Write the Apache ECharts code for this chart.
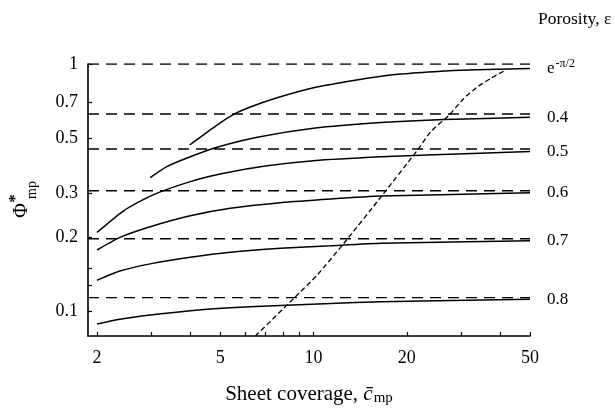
<!DOCTYPE html>
<html lang="en">
<head>
  <meta charset="UTF-8">
  <title>Sheet coverage vs porosity</title>
  <script src="https://cdn.jsdelivr.net/npm/echarts@6/dist/echarts.min.js"></script>
  <style>
    html, body { margin: 0; padding: 0; background: #fff; }
    #chart { width: 615px; height: 409px; }
  </style>
</head>
<body>
  <div id="chart"></div>
<script>
  // tick positions (real values, plotted on log10 axes)
  const xTickLabels = [2, 5, 10, 20, 50];
  const xTicks = [2, 3, 4, 5, 6, 7, 8, 9, 10, 20, 30, 40, 50];
  const yTickLabels = [0.1, 0.2, 0.3, 0.5, 0.7, 1];
  const yTicks = [0.1, 0.128, 0.15, 0.2, 0.3, 0.5, 0.7, 1];
  const xMin = 1.87, xMax = 50;
  const yMin = 0.0798, yMax = 1;

  // porosity labels and asymptotes (dashed)
  const porosity = ['e^-π/2', '0.4', '0.5', '0.6', '0.7', '0.8'];
  const asymptotes = [1, 0.628, 0.454, 0.308, 0.197, 0.114];

  // solid curves, [coverage, phi]
  const curveE = [[3.98, 0.471], [4.88, 0.567], [5.66, 0.636], [6.74, 0.694], [7.82, 0.738], [10, 0.802], [11.6, 0.83], [14.9, 0.876], [19.1, 0.911], [24.5, 0.931], [31.4, 0.946], [50, 0.958]];
  const curve04 = [[2.97, 0.3475], [3.36, 0.385], [4, 0.422], [4.88, 0.461], [6.58, 0.506], [10, 0.55], [16.5, 0.58], [26.4, 0.597], [50, 0.609]];
  const curve05 = [[2, 0.209], [2.43, 0.255], [2.97, 0.293], [4, 0.335], [5.13, 0.362], [7.08, 0.388], [10, 0.407], [16.5, 0.422], [24.5, 0.43], [50, 0.443]];
  const curve06 = [[2, 0.1775], [2.37, 0.1996], [2.97, 0.2204], [4, 0.244], [5.39, 0.2615], [7.82, 0.2754], [11.35, 0.285], [16.5, 0.293], [50, 0.302]];
  const curve07 = [[2, 0.134], [2.37, 0.146], [2.97, 0.156], [4, 0.1658], [5.39, 0.1738], [7.82, 0.1803], [11.35, 0.1847], [16.5, 0.189], [50, 0.1935]];
  const curve08 = [[2, 0.0892], [2.37, 0.0932], [2.97, 0.097], [4, 0.101], [5.39, 0.1038], [7.82, 0.106], [11.35, 0.108], [16.5, 0.1097], [50, 0.1122]];
  const curves = [curveE, curve04, curve05, curve06, curve07, curve08];

  // steep dashed curve
  const limitCurve = [[6.49, 0.0798], [8.64, 0.1133], [10.28, 0.1407], [12.54, 0.189], [16.7, 0.296], [21.66, 0.4495], [23.9, 0.533], [27.4, 0.622], [30.6, 0.727], [33.9, 0.81], [37.4, 0.876], [41.8, 0.946]];

  const lg = Math.log10;
  const toLog = (pts) => pts.map((p) => [lg(p[0]), lg(p[1])]);
  const serif = 'Liberation Serif';

  function fmt(v) {
    const r = Math.pow(10, v);
    return String(parseFloat(r.toPrecision(3)));
  }

  const series = [];
  asymptotes.forEach((a) => {
    series.push({
      type: 'line',
      data: [[lg(xMin), lg(a)], [lg(xMax), lg(a)]],
      symbol: 'none',
      silent: true,
      lineStyle: { color: '#000', width: 1.4, type: [11, 7] },
    });
  });
  curves.forEach((c, i) => {
    const label = porosity[i];
    series.push({
      type: 'line',
      data: toLog(c),
      symbol: 'none',
      smooth: 0.2,
      clip: true,
      lineStyle: { color: '#000', width: 1.5 },
      endLabel: {
        show: true,
        distance: 17,
        color: '#000',
        fontFamily: serif,
        fontSize: 17,
        formatter: i === 0 ? '{b|e}{p|-π/2}' : label,
        rich: {
          b: { fontFamily: serif, fontSize: 17, color: '#000' },
          p: { fontFamily: serif, fontSize: 12, color: '#000', padding: [0, 0, 10, 1] },
        },
      },
    });
  });
  series.push({
    type: 'line',
    data: toLog(limitCurve),
    symbol: 'none',
    smooth: 0.2,
    lineStyle: { color: '#000', width: 1.3, type: [5, 3] },
  });

  const chart = echarts.init(document.getElementById('chart'));
  chart.setOption({
    backgroundColor: '#fff',
    animation: false,
    grid: { left: 88, right: 85, top: 64, bottom: 73, outerBoundsMode: 'none', containLabel: false },
    xAxis: {
      type: 'value',
      min: lg(xMin),
      max: lg(xMax),
      splitLine: { show: false },
      axisLine: { onZero: false, lineStyle: { color: '#000', width: 1.6 } },
      axisTick: { inside: true, length: 4, customValues: xTicks.map(lg), lineStyle: { color: '#000', width: 1.2 } },
      axisLabel: {
        customValues: xTickLabels.map(lg),
        formatter: fmt,
        margin: 13,
        color: '#000',
        fontFamily: serif,
        fontSize: 18,
      },
      name: '{a|Sheet coverage, }{c|c\u0304}{s|mp}',
      nameLocation: 'middle',
      nameGap: 46,
      nameTextStyle: {
        rich: {
          a: { fontFamily: serif, fontSize: 21, color: '#000' },
          c: { fontFamily: serif, fontSize: 21, fontStyle: 'italic', color: '#000' },
          s: { fontFamily: serif, fontSize: 15, color: '#000', padding: [9, 0, 0, 1] },
        },
      },
    },
    yAxis: {
      type: 'value',
      min: lg(yMin),
      max: lg(yMax),
      splitLine: { show: false },
      axisLine: { onZero: false, lineStyle: { color: '#000', width: 1.6 } },
      axisTick: { inside: true, length: 4, customValues: yTicks.map(lg), lineStyle: { color: '#000', width: 1.2 } },
      axisLabel: {
        customValues: yTickLabels.map(lg),
        formatter: fmt,
        margin: 10,
        color: '#000',
        fontFamily: serif,
        fontSize: 18,
      },
    },
    graphic: [
      {
        type: 'group',
        x: 28,
        y: 198,
        rotation: Math.PI / 2,
        children: [
          { type: 'text', x: -12.5, y: -6.5, style: { text: 'Φ', font: '20px "Liberation Serif"', fill: '#000', align: 'center', verticalAlign: 'middle' } },
          { type: 'text', x: -0.5, y: -12, style: { text: '*', font: 'bold 17px "Liberation Serif"', fill: '#000', align: 'center', verticalAlign: 'middle' } },
          { type: 'text', x: -1, y: 4, style: { text: 'mp', font: '14px "Liberation Serif"', fill: '#000', align: 'left', verticalAlign: 'middle' } },
        ],
      },
      {
        type: 'text',
        left: 538,
        top: 10,
        style: { text: 'Porosity, ε', font: '17.5px "Liberation Serif"', fill: '#000' },
      },
    ],
    series: series,
  });
</script>
</body>
</html>
